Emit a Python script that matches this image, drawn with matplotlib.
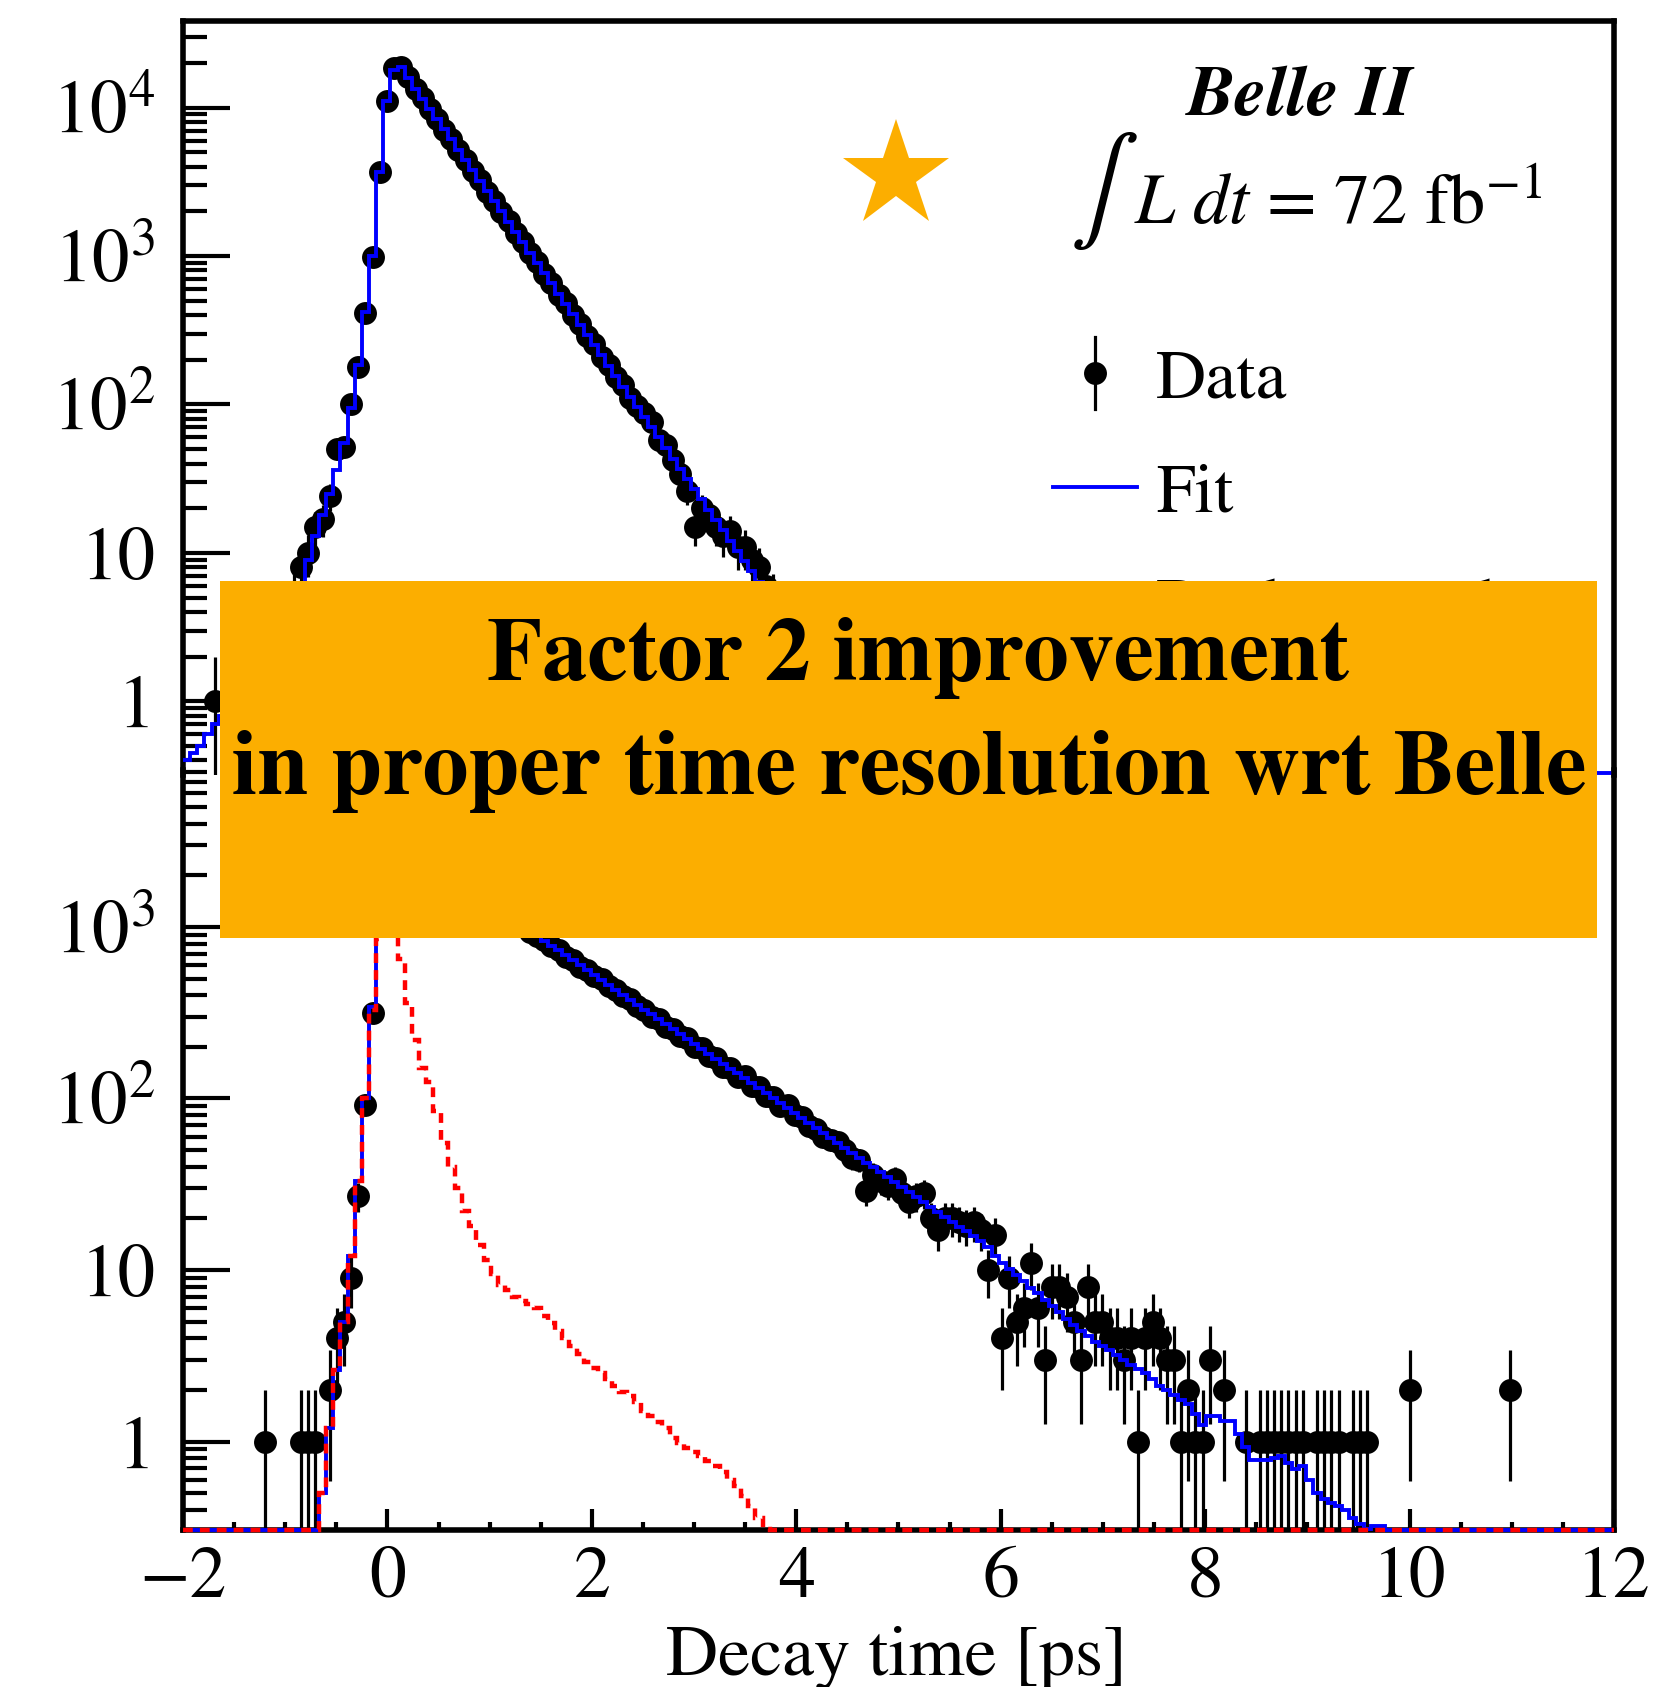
import numpy as np
import matplotlib
matplotlib.use("Agg")
import matplotlib.pyplot as plt
from matplotlib.patches import Rectangle
from matplotlib.ticker import FixedLocator, FixedFormatter, LogLocator, MultipleLocator, NullFormatter

plt.rcParams['font.family'] = ['STIXGeneral', 'DejaVu Serif']
plt.rcParams['mathtext.fontset'] = 'stix'

# decay time binning: 200 bins of 0.07 ps from -2 to 12 ps
t_lo = -2.0
t_hi = 12.0
n_bins = 200

# upper panel: candidates per bin (data) and fit
top_data = [
    0, 0, 0, 0, 1, 0, 1, 0, 1, 2,
    1, 2, 3, 2, 4, 5, 8, 10, 15, 17,
    24, 50, 52, 100, 180, 414, 980, 3700, 11100, 18500,
    18900, 16000, 13400, 11600, 9800, 8400, 7100, 6150, 5180, 4450,
    3760, 3230, 2720, 2350, 1990, 1710, 1440, 1240, 1050, 905,
    760, 658, 550, 480, 398, 350, 290, 255, 210, 185,
    152, 135, 110, 98, 88, 76, 58, 53, 42, 34,
    26, 15, 20, 18, 15, 13, 14, 11, 11, 9,
    8, 6, 5, 4, 3, 4, 3, 2, 2, 3,
    1, 2, 1, 1, 0, 1, 0, 1, 0, 0,
    1, 0, 0, 1, 0, 0, 0, 0, 0, 0,
    0, 0, 0, 0, 0, 0, 0, 0, 0, 0,
    0, 0, 0, 0, 0, 0, 0, 0, 0, 0,
    0, 0, 0, 0, 0, 0, 0, 0, 0, 0,
    0, 0, 0, 0, 0, 0, 0, 0, 0, 0,
    0, 0, 0, 0, 0, 0, 0, 0, 0, 0,
    0, 0, 0, 0, 0, 0, 0, 0, 0, 0,
    0, 0, 0, 0, 0, 0, 0, 0, 0, 0,
    0, 0, 0, 0, 0, 0, 0, 0, 0, 0,
    0, 0, 0, 0, 0, 0, 0, 0, 0, 0,
]
top_fit = [
    0.40, 0.45, 0.50, 0.60, 0.70, 0.80, 0.90, 1.0, 1.15, 1.3,
    1.5, 1.7, 2.0, 2.4, 3.0, 4.0, 6.0, 9.0, 13, 18,
    25, 36, 55, 95, 185, 420, 1000, 3700, 11000, 18000,
    18700, 15800, 13400, 11500, 9840, 8390, 7150, 6100, 5200, 4430,
    3780, 3220, 2740, 2340, 1995, 1700, 1450, 1235, 1055, 898,
    766, 653, 556, 474, 404, 345, 294, 250, 214, 182,
    155, 132, 113, 96, 82, 70, 60, 51, 43, 37,
    31.5, 26.8, 22.9, 19.5, 16.6, 14.2, 12.1, 10.3, 8.8, 7.5,
    6.4, 5.4, 4.6, 3.9, 3.4, 2.9, 2.5, 2.1, 1.8, 1.6,
    1.4, 1.2, 1.05, 0.92, 0.82, 0.74, 0.67, 0.61, 0.56, 0.52,
    0.49, 0.46, 0.44, 0.42, 0.40, 0.39, 0.38, 0.37, 0.36, 0.36,
    0.35, 0.35, 0.35, 0.34, 0.34, 0.34, 0.34, 0.34, 0.34, 0.34,
    0.33, 0.33, 0.33, 0.33, 0.33, 0.33, 0.33, 0.33, 0.33, 0.33,
    0.33, 0.33, 0.33, 0.33, 0.33, 0.33, 0.33, 0.33, 0.33, 0.33,
    0.33, 0.33, 0.33, 0.33, 0.33, 0.33, 0.33, 0.33, 0.33, 0.33,
    0.33, 0.33, 0.33, 0.33, 0.33, 0.33, 0.33, 0.33, 0.33, 0.33,
    0.33, 0.33, 0.33, 0.33, 0.33, 0.33, 0.33, 0.33, 0.33, 0.33,
    0.33, 0.33, 0.33, 0.33, 0.33, 0.33, 0.33, 0.33, 0.33, 0.33,
    0.33, 0.33, 0.33, 0.33, 0.33, 0.33, 0.33, 0.33, 0.33, 0.33,
    0.33, 0.33, 0.33, 0.33, 0.33, 0.33, 0.33, 0.33, 0.33, 0.33,
]

# lower panel: data, total fit and background component
bot_data = [
    0, 0, 0, 0, 0, 0, 0, 0, 0, 0,
    0, 1, 0, 0, 0, 0, 1, 1, 1, 0,
    2, 4, 5, 9, 27, 92, 316, 1150, 2900, 4150,
    3850, 3300, 2920, 2710, 2480, 2350, 2120, 2010, 1850, 1740,
    1600, 1530, 1400, 1330, 1220, 1170, 1070, 1020, 940, 880,
    840, 770, 735, 670, 640, 585, 560, 515, 495, 450,
    430, 395, 380, 345, 330, 300, 292, 262, 255, 232,
    225, 200, 198, 176, 172, 152, 150, 133, 135, 118,
    116, 104, 102, 90, 92, 80, 78, 69, 66, 60,
    57, 56, 50, 45, 44, 29, 36, 33, 31, 34,
    28, 25, 27, 28, 20, 17, 20, 20, 19, 18,
    19, 17, 10, 16, 4, 9, 5, 6, 11, 6,
    3, 8, 8, 7, 5, 3, 8, 5, 5, 4,
    4, 3, 4, 1, 4, 5, 4, 3, 3, 1,
    2, 1, 1, 3, 0, 2, 0, 0, 1, 0,
    1, 1, 1, 1, 1, 1, 1, 0, 1, 1,
    1, 1, 0, 1, 1, 1, 0, 0, 0, 0,
    0, 2, 0, 0, 0, 0, 0, 0, 0, 0,
    0, 0, 0, 0, 0, 2, 0, 0, 0, 0,
    0, 0, 0, 0, 0, 0, 0, 0, 0, 0,
]
bot_fit = [
    0, 0, 0, 0, 0, 0, 0, 0, 0, 0,
    0, 0, 0, 0, 0, 0, 0, 0, 0.2, 0.5,
    1.2, 2.6, 5, 12, 33, 100, 340, 1100, 2800, 4100,
    3900, 3260, 2950, 2695, 2500, 2310, 2140, 1995, 1860, 1730,
    1618, 1515, 1417, 1325, 1238, 1158, 1084, 1015, 950, 890,
    833, 779, 730, 683, 639, 598, 559, 524, 490, 458,
    429, 402, 376, 352, 330, 309, 289, 270, 253, 237,
    222, 207, 194, 182, 170, 159, 149, 140, 131, 122.5,
    115, 107.5, 100.5, 94, 88, 82.5, 77, 72, 67.5, 63,
    59, 55, 51.5, 48.3, 45.2, 42.3, 39.6, 37.1, 34.7, 32.5,
    30.4, 28.4, 26.6, 24.9, 23.3, 21.8, 20.4, 19.1, 17.9, 16.8,
    15.7, 14.7, 13.7, 12.0, 11.0, 10.1, 9.3, 8.6, 7.9, 7.3,
    6.7, 6.2, 5.7, 5.2, 4.8, 4.4, 4.1, 3.8, 3.6, 3.4,
    3.2, 3.0, 2.8, 2.65, 2.5, 2.3, 2.1, 2.0, 1.87, 1.75,
    1.66, 1.44, 1.25, 1.4, 1.4, 1.32, 1.32, 1.1, 0.93, 0.78,
    0.78, 0.78, 0.8, 0.82, 0.75, 0.69, 0.72, 0.6, 0.5, 0.46,
    0.44, 0.42, 0.40, 0.36, 0.33, 0.31, 0.32, 0.32, 0.30, 0.28,
    0, 0, 0, 0, 0, 0, 0, 0, 0, 0,
    0, 0, 0, 0, 0, 0, 0, 0, 0, 0,
    0, 0, 0, 0, 0, 0, 0, 0, 0, 0,
]
bot_bkg = [
    0, 0, 0, 0, 0, 0, 0, 0, 0, 0,
    0, 0, 0, 0, 0, 0, 0, 0, 0.2, 0.5,
    1.2, 2.6, 5, 12, 33, 100, 330, 850, 1000, 950,
    650, 360, 220, 150, 125, 85, 55, 40, 30, 22,
    18, 14, 11.5, 9.5, 8.2, 7.6, 7.0, 6.6, 6.3, 6.0,
    5.4, 4.9, 4.4, 4.0, 3.6, 3.25, 2.9, 2.7, 2.5, 2.3,
    2.1, 1.95, 1.85, 1.7, 1.5, 1.4, 1.3, 1.2, 1.05, 0.98,
    0.92, 0.87, 0.82, 0.77, 0.72, 0.66, 0.60, 0.55, 0.48, 0.42,
    0.36, 0.31, 0.27, 0, 0, 0, 0, 0, 0, 0,
    0, 0, 0, 0, 0, 0, 0, 0, 0, 0,
    0, 0, 0, 0, 0, 0, 0, 0, 0, 0,
    0, 0, 0, 0, 0, 0, 0, 0, 0, 0,
    0, 0, 0, 0, 0, 0, 0, 0, 0, 0,
    0, 0, 0, 0, 0, 0, 0, 0, 0, 0,
    0, 0, 0, 0, 0, 0, 0, 0, 0, 0,
    0, 0, 0, 0, 0, 0, 0, 0, 0, 0,
    0, 0, 0, 0, 0, 0, 0, 0, 0, 0,
    0, 0, 0, 0, 0, 0, 0, 0, 0, 0,
    0, 0, 0, 0, 0, 0, 0, 0, 0, 0,
    0, 0, 0, 0, 0, 0, 0, 0, 0, 0,
]

top_ylim = (0.321, 3.86e4)
bot_ylim = (0.305, 8220)
top_ticks = [1, 10, 100, 1000, 10000]
top_labels = ['1', '10', '$10^{2}$', '$10^{3}$', '$10^{4}$']
bot_ticks = [1, 10, 100, 1000]
bot_labels = ['1', '10', '$10^{2}$', '$10^{3}$']

orange = '#FCAE00'
W, H = 1674, 1687

for arr in (top_data, top_fit, bot_data, bot_fit, bot_bkg):
    assert len(arr) == n_bins, len(arr)

edges = np.linspace(t_lo, t_hi, n_bins + 1)
centers = 0.5 * (edges[1:] + edges[:-1])

fig = plt.figure(figsize=(W / 100, H / 100), dpi=100)
ax_top = fig.add_axes([183 / W, 1 - 774.6 / H, 1431 / W, (774.6 - 20.5) / H])
ax_bot = fig.add_axes([183 / W, 1 - 1530 / H, 1431 / W, (1530 - 770) / H])
ax_bot.patch.set_visible(False)

dash = (0, (2.2, 1.6))


def style_axis(ax, ylim, ticks, labels):
    ax.set_xlim(t_lo, t_hi)
    ax.set_yscale('log')
    ax.set_ylim(*ylim)
    ax.yaxis.set_major_locator(FixedLocator(ticks))
    ax.yaxis.set_major_formatter(FixedFormatter(labels))
    ax.yaxis.set_minor_locator(LogLocator(base=10, subs=np.arange(2, 10)))
    ax.yaxis.set_minor_formatter(NullFormatter())
    ax.tick_params(axis='y', which='major', direction='in', length=34, width=3.0,
                   labelsize=54, pad=20, left=True, right=False)
    ax.tick_params(axis='y', which='minor', direction='in', length=17, width=3.0,
                   left=True, right=False)
    for s in ax.spines.values():
        s.set_linewidth(4.0)


def draw_panel(ax, data, fit, bkg, ymin):
    n = np.asarray(data, dtype=float)
    m = n > 0
    err_lo = n[m] - np.maximum(n[m] - np.sqrt(n[m]), 1e-3)
    err_hi = np.sqrt(n[m])
    ax.errorbar(centers[m], n[m], yerr=[err_lo, err_hi], fmt='o', color='black',
                ms=16.5, mew=0, elinewidth=2.3, capsize=0, zorder=2)
    # values below the axis floor are drawn on the floor, like ROOT does
    ax.stairs(np.clip(fit, ymin, None), edges, baseline=None, color='#0000FF',
              lw=2.8, clip_on=False, zorder=3)
    if bkg is not None:
        ax.stairs(np.clip(bkg, ymin, None), edges, baseline=None, color='#FF0000',
                  lw=3.2, linestyle=dash, clip_on=False, zorder=4)


style_axis(ax_top, top_ylim, top_ticks, top_labels)
style_axis(ax_bot, bot_ylim, bot_ticks, bot_labels)
ax_top.spines['bottom'].set_visible(False)
ax_bot.spines['top'].set_visible(False)
ax_top.tick_params(axis='x', which='both', bottom=False, top=False, labelbottom=False)

ax_bot.xaxis.set_major_locator(MultipleLocator(2))
ax_bot.xaxis.set_minor_locator(MultipleLocator(0.5))
ax_bot.tick_params(axis='x', which='major', direction='in', length=15, width=3.0,
                   labelsize=53, pad=12, top=False)
ax_bot.tick_params(axis='x', which='minor', direction='in', length=6, width=3.0, top=False)

draw_panel(ax_top, top_data, top_fit, None, top_ylim[0])
draw_panel(ax_bot, bot_data, bot_fit, bot_bkg, bot_ylim[0])

fig.text(897 / W, 1 - 1675 / H, 'Decay time [ps]', ha='center', va='baseline', fontsize=52)

# overlay in pixel coordinates for the labels, legend, star and banner
ov = fig.add_axes([0, 0, 1, 1])
ov.set_zorder(10)
ov.patch.set_visible(False)
ov.set_xlim(0, W)
ov.set_ylim(H, 0)
ov.axis('off')

ov.text(1300, 115, 'Belle II', ha='center', va='baseline', fontsize=52,
        fontweight='bold', fontstyle='italic')
ov.text(1094, 191, '\u222b', ha='center', va='center', fontsize=74)
ov.text(1134, 224, r'$L\ dt$ = 72 fb$^{-1}$', ha='left', va='baseline', fontsize=52)

ov.plot([1095, 1095], [337, 409], color='black', lw=2.3)
ov.plot([1095], [373], 'o', color='black', ms=16.5, mew=0)
ov.text(1156, 397, 'Data', ha='left', va='baseline', fontsize=50)
ov.plot([1053, 1137], [487, 487], color='#0000FF', lw=2.8)
ov.text(1156, 511, 'Fit', ha='left', va='baseline', fontsize=50)
ov.plot([1053, 1137], [600, 600], color='#FF0000', lw=3.2, linestyle=dash)
ov.text(1156, 626, 'Background', ha='left', va='baseline', fontsize=50)

ov.plot([896], [175], marker='*', ms=81, color=orange, mew=0)

ov.add_patch(Rectangle((220.5, 581), 1377, 357, facecolor=orange, edgecolor='none', zorder=5))
ov.text(918, 680, 'Factor 2 improvement', ha='center', va='baseline', fontsize=65,
        fontweight='bold', zorder=6)
ov.text(909, 794, 'in proper time resolution wrt Belle', ha='center', va='baseline',
        fontsize=66, fontweight='bold', zorder=6)

fig.savefig('out.png', dpi=100)
